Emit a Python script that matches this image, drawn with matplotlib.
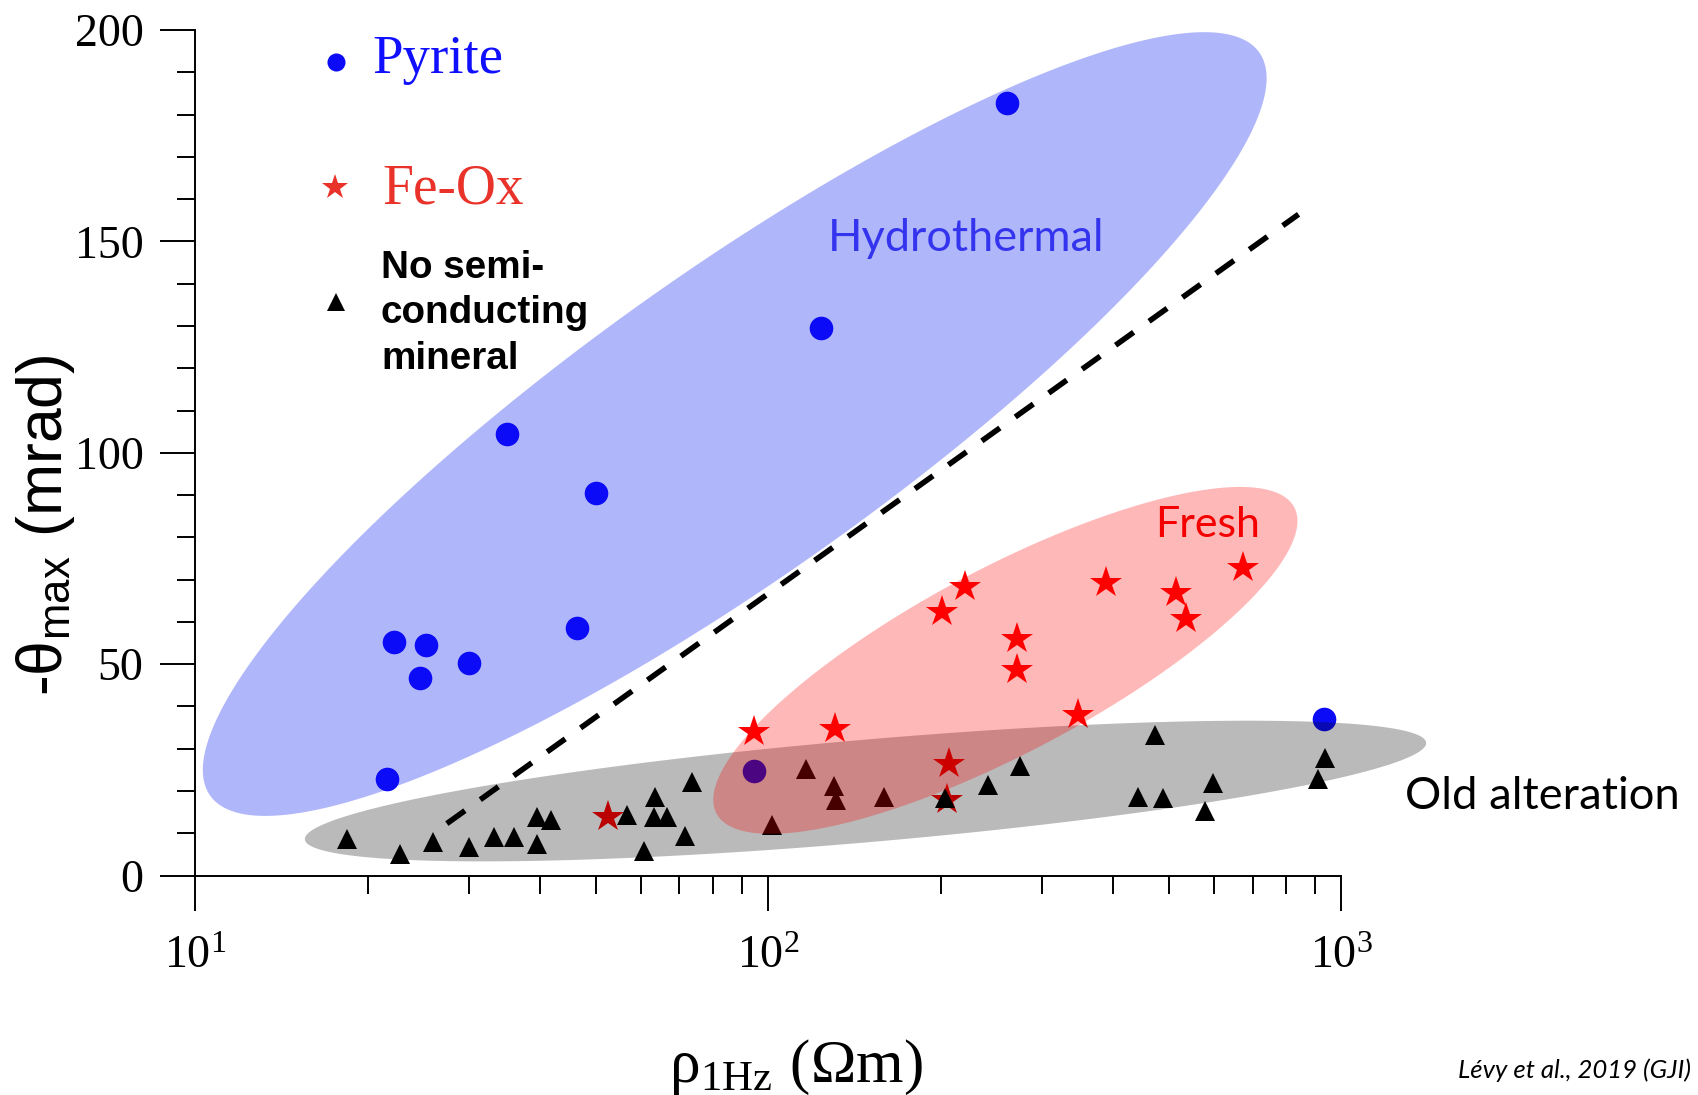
import numpy as np
import matplotlib
matplotlib.use("Agg")
from matplotlib import pyplot as plt
from matplotlib.ticker import LogLocator, MultipleLocator, NullFormatter

plt.rcParams['font.family'] = 'Liberation Serif'
plt.rcParams['mathtext.fontset'] = 'stix'

# pyrite samples (blue dots)
pyrite_rho = [261, 123.8, 35.0, 50.0, 46.4, 22.2, 25.3, 30.1, 24.7, 21.6, 94.6, 933]
pyrite_theta = [182.8, 129.5, 104.4, 90.5, 58.5, 55.3, 54.6, 50.2, 46.7, 22.8, 24.8, 37.0]

# iron oxide samples (red stars)
feox_rho = [94.6, 130.5, 52.6, 201, 220, 272, 272, 347, 389, 515, 534.6, 673.5, 206.5, 205]
feox_theta = [34.0, 34.6, 13.8, 62.4, 68.2, 55.9, 48.6, 38.0, 69.2, 66.8, 60.6, 72.7, 26.3, 17.9]

# no semi-conducting mineral (black triangles)
none_rho = [18.4, 22.8, 26.0, 30.1, 33.3, 36.0, 39.5, 41.8, 39.5, 56.7, 60.8, 63.4, 63.1, 66.7,
            71.6, 73.6, 101.5, 116.2, 130.4, 131.2, 159, 203, 242, 274.4, 472, 441.6, 488.7,
            596.7, 578, 909, 937]
none_theta = [8.6, 5.0, 8.0, 6.7, 9.2, 9.1, 13.8, 13.2, 7.5, 14.3, 5.7, 18.7, 13.9, 13.9,
              9.4, 22.2, 12.0, 25.2, 21.2, 17.9, 18.7, 18.3, 21.4, 25.9, 33.3, 18.7, 18.4,
              22.0, 15.3, 22.8, 27.9]

# regions: centre (rho, theta), half axes in (decades, mrad)
hydro_c, hydro_u, hydro_v = (87.4, 106.8), (0.915, 87.9), (-0.154, 29.4)
fresh_c, fresh_u, fresh_v = (259.2, 50.9), (0.504, 36.2), (-0.075, 19.3)
old_c, old_u, old_v = (147.8, 20.0), (0.978, 11.45), (-0.008, 12.07)

# dashed separation line
sep_rho = [27.5, 841.5]
sep_theta = [12.3, 156.4]


def region(ax, c, u, v, **kw):
    t = np.linspace(0, 2 * np.pi, 400)
    lx = np.log10(c[0]) + u[0] * np.cos(t) + v[0] * np.sin(t)
    yy = c[1] + u[1] * np.cos(t) + v[1] * np.sin(t)
    ax.fill(10 ** lx, yy, lw=0, clip_on=False, **kw)


fig = plt.figure(figsize=(16.99, 10.95), dpi=100)
ax = fig.add_axes([0.11477, 0.20037, 0.67481, 0.77224])
ax.set_xscale('log')
ax.set_xlim(10, 1000)
ax.set_ylim(0, 200)

region(ax, hydro_c, hydro_u, hydro_v, color='#0a1ef0', alpha=0.32, zorder=1)

ax.plot(pyrite_rho, pyrite_theta, 'o', color='#0b0bf7', ms=17, mew=0, clip_on=False, zorder=2)
ax.plot(feox_rho, feox_theta, '*', color='#ff0000', ms=24, mew=0, clip_on=False, zorder=2)
ax.plot(none_rho, none_theta, '^', color='black', ms=14, mew=0, clip_on=False, zorder=2)

region(ax, old_c, old_u, old_v, color='black', alpha=0.27, zorder=3)
region(ax, fresh_c, fresh_u, fresh_v, color='#ff0000', alpha=0.28, zorder=4)

ax.plot(sep_rho, sep_theta, color='black', lw=4, dashes=(4, 3.4), dash_capstyle='butt', zorder=5)

# axes styling
for s in ['top', 'right']:
    ax.spines[s].set_visible(False)
for s in ['left', 'bottom']:
    ax.spines[s].set_linewidth(1.4)
ax.yaxis.set_major_locator(MultipleLocator(50))
ax.yaxis.set_minor_locator(MultipleLocator(10))
ax.xaxis.set_major_locator(LogLocator(base=10, numticks=10))
ax.xaxis.set_minor_locator(LogLocator(base=10, subs=np.arange(2, 10), numticks=20))
ax.xaxis.set_minor_formatter(NullFormatter())
ax.tick_params(which='major', direction='out', length=25, width=1.4, labelsize=33)
ax.tick_params(which='minor', direction='out', length=13, width=1.4)
ax.tick_params(axis='y', pad=12)
ax.tick_params(axis='x', pad=18)

ax.text(0.524, -0.2263, r'ρ$_{\mathregular{1Hz}}$ (Ωm)', fontsize=44, ha='center', va='center',
        transform=ax.transAxes)
ax.text(-0.130, 0.414, r'-θ$_{\mathregular{max}}$ (mrad)', fontsize=45, family='Liberation Sans',
        rotation=90, rotation_mode='anchor', ha='center', va='center', transform=ax.transAxes)

# legend
ax.plot([0.123], [0.962], 'o', color='#0b0bf7', ms=13, mew=0, transform=ax.transAxes, clip_on=False)
ax.text(0.1544, 0.9491, 'Pyrite', color='#1010ff', fontsize=39.5, transform=ax.transAxes, va='baseline')
ax.plot([0.122], [0.8143], '*', color='#e8322a', ms=19, mew=0, transform=ax.transAxes, clip_on=False)
ax.text(0.1631, 0.7954, 'Fe-Ox', color='#e8322a', fontsize=40, transform=ax.transAxes, va='baseline')
ax.plot([0.123], [0.6784], '^', color='black', ms=13, mew=0, transform=ax.transAxes, clip_on=False)
ax.text(0.1622, 0.7397, 'No semi-\nconducting\nmineral', fontsize=27.8, family='Liberation Sans',
        weight='bold', transform=ax.transAxes, va='top', linespacing=1.33)

# region names
ax.text(221.6, 147.8, 'Hydrothermal', color='#3434ee', fontsize=32.5, family='Lato', ha='center', va='baseline')
ax.text(583, 80.1, 'Fresh', color='#f00000', fontsize=31, family='Lato', ha='center', va='baseline')
ax.text(1293, 15.8, 'Old alteration', color='black', fontsize=32.6, family='Lato', ha='left', va='baseline',
        clip_on=False)

fig.text(0.995, 0.0155, 'Lévy et al., 2019 (GJI)', fontsize=18.5, family='Lato', style='italic', ha='right')

fig.savefig('out.png', dpi=100)
